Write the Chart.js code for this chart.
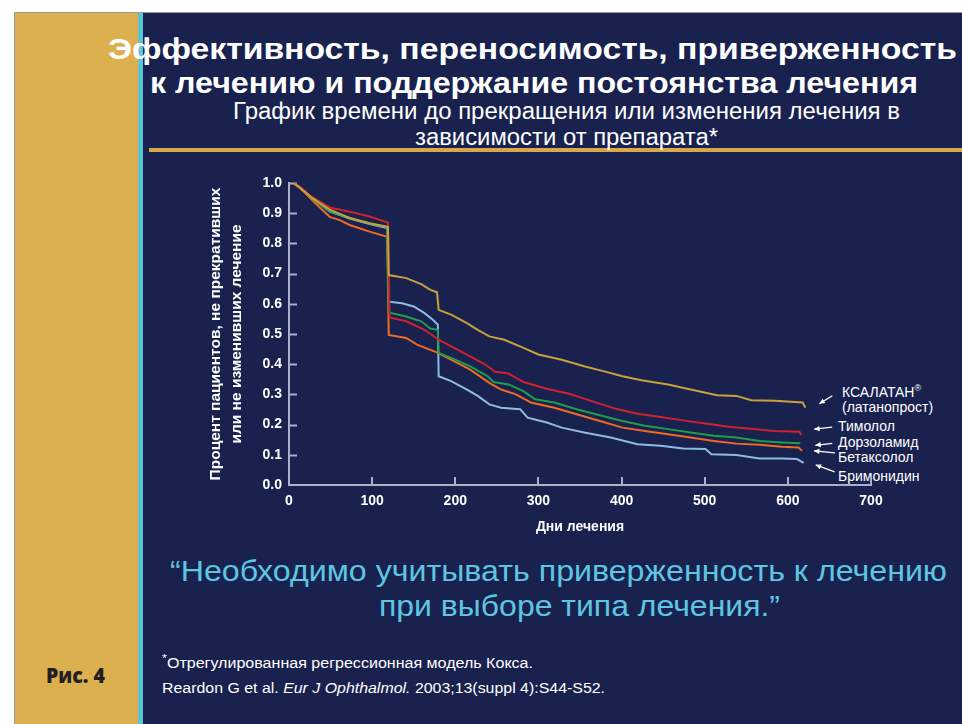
<!DOCTYPE html>
<html>
<head>
<meta charset="utf-8">
<script src="https://cdn.jsdelivr.net/npm/chart.js@4.4.1/dist/chart.umd.min.js"></script>
<style>
  html, body { margin: 0; padding: 0; }
  body { width: 962px; height: 724px; position: relative; overflow: hidden; background: #ffffff; font-family: "Liberation Sans", Arial, sans-serif; }
  #frame { position: absolute; left: 14px; top: 12px; right: 0; bottom: 0; border-left: 1px solid #9a9a9a; border-top: 1px solid #9a9a9a; background: #19214f; }
  #gold { position: absolute; left: 15px; top: 13px; width: 123px; bottom: 0; background: #dcb04e; }
  #cyan { position: absolute; left: 138px; top: 13px; width: 5px; bottom: 0; background: #5cc5d5; }
  #rule { position: absolute; left: 149px; top: 148px; right: 0; height: 4px; background: #d9a84a; }
  .t { position: absolute; white-space: nowrap; line-height: 1; transform-origin: 0 0; color: #ffffff; }
  #chart { position: absolute; left: 0; top: 0; width: 962px; height: 724px; }
</style>
</head>
<body>
<div id="frame"></div>
<div id="gold"></div>
<div id="cyan"></div>
<div id="rule"></div>
<div id="texts"></div>
<canvas id="chart" width="962" height="724"></canvas>
<script>
// days since start of treatment, and share of patients still on the same therapy
const xalatanDays = [5, 13, 29, 49, 73, 97, 119, 120, 141, 159, 170, 178, 180, 195, 214, 227, 241, 259, 282, 300, 328, 355, 378, 401, 424, 456, 483, 515, 538, 556, 584, 618, 621];
const xalatanValues = [1.0, 0.985, 0.948, 0.912, 0.884, 0.867, 0.855, 0.695, 0.685, 0.665, 0.646, 0.638, 0.58, 0.564, 0.536, 0.514, 0.492, 0.481, 0.454, 0.432, 0.415, 0.393, 0.377, 0.36, 0.347, 0.333, 0.316, 0.297, 0.295, 0.281, 0.279, 0.273, 0.256];

const timololDays = [5, 13, 25, 49, 73, 97, 119, 121, 141, 163, 180, 195, 218, 236, 248, 264, 282, 310, 337, 355, 392, 419, 447, 474, 501, 529, 561, 584, 614, 616];
const timololValues = [1.0, 0.988, 0.958, 0.919, 0.905, 0.889, 0.869, 0.555, 0.542, 0.514, 0.481, 0.459, 0.426, 0.399, 0.375, 0.369, 0.341, 0.319, 0.302, 0.286, 0.253, 0.236, 0.225, 0.214, 0.204, 0.193, 0.185, 0.179, 0.176, 0.165];

const dorzolamideDays = [5, 13, 29, 49, 73, 97, 118, 120, 141, 159, 170, 179, 180, 195, 218, 239, 246, 264, 282, 296, 319, 346, 369, 401, 428, 456, 483, 511, 538, 566, 593, 615];
const dorzolamideValues = [1.0, 0.986, 0.946, 0.906, 0.884, 0.866, 0.854, 0.571, 0.558, 0.542, 0.518, 0.514, 0.437, 0.421, 0.393, 0.36, 0.341, 0.333, 0.311, 0.284, 0.273, 0.251, 0.234, 0.212, 0.196, 0.185, 0.174, 0.163, 0.157, 0.146, 0.141, 0.138];

const betaxololDays = [5, 13, 29, 49, 61, 73, 97, 118, 120, 141, 154, 177, 195, 218, 241, 255, 273, 291, 319, 346, 374, 401, 428, 456, 483, 511, 538, 566, 593, 613, 617];
const betaxololValues = [1.0, 0.984, 0.94, 0.888, 0.877, 0.861, 0.839, 0.822, 0.497, 0.487, 0.465, 0.44, 0.415, 0.382, 0.338, 0.316, 0.3, 0.273, 0.256, 0.234, 0.212, 0.19, 0.179, 0.168, 0.157, 0.146, 0.137, 0.133, 0.127, 0.124, 0.113];

const brimonidineDays = [5, 13, 29, 49, 73, 97, 118, 120, 136, 150, 163, 173, 179, 180, 195, 214, 227, 241, 255, 278, 287, 310, 328, 355, 387, 419, 447, 474, 501, 508, 538, 566, 593, 611, 619];
const brimonidineValues = [1.0, 0.986, 0.947, 0.905, 0.882, 0.864, 0.851, 0.607, 0.602, 0.591, 0.569, 0.547, 0.531, 0.36, 0.344, 0.316, 0.295, 0.267, 0.256, 0.251, 0.223, 0.207, 0.19, 0.174, 0.157, 0.135, 0.13, 0.121, 0.119, 0.102, 0.099, 0.088, 0.088, 0.086, 0.073];

const seriesNames = ['КСАЛАТАН® (латанопрост)', 'Тимолол', 'Дорзоламид', 'Бетаксолол', 'Бримонидин'];
const xTicks = [0, 100, 200, 300, 400, 500, 600, 700];
const yTicks = [0.0, 0.1, 0.2, 0.3, 0.4, 0.5, 0.6, 0.7, 0.8, 0.9, 1.0];

// slide texts: [text, left, baseline, width, size, weight, colour]
const slideTexts = [
  ['Эффективность, переносимость, приверженность', 108, 59, 849, 30, 'bold', '#ffffff'],
  ['к лечению и поддержание постоянства лечения', 150, 93, 768, 30, 'bold', '#ffffff'],
  ['График времени до прекращения или изменения лечения в', 233, 119, 667, 23, 'normal', '#ffffff'],
  ['зависимости от препарата*', 415, 145, 303, 23, 'normal', '#ffffff'],
  ['\u201cНеобходимо учитывать приверженность к лечению', 170, 582, 777, 29, 'normal', '#5ec6e0'],
  ['при выборе типа лечения.\u201d', 379, 617, 401, 29, 'normal', '#5ec6e0'],
  ['(латанопрост)', 842, 412, 0, 14, 'normal', '#ffffff'],
  ['Тимолол', 838, 431, 0, 14, 'normal', '#ffffff'],
  ['Дорзоламид', 838, 447, 0, 14, 'normal', '#ffffff'],
  ['Бетаксолол', 838, 462, 0, 14, 'normal', '#ffffff'],
  ['Бримонидин', 838, 481, 0, 14, 'normal', '#ffffff']
];

const texts = document.getElementById('texts');
function addText(t) {
  const s = document.createElement('span');
  s.className = 't';
  s.textContent = t[0];
  s.style.left = t[1] + 'px';
  s.style.top = (t[2] - 0.8465 * t[4]) + 'px';
  s.style.fontSize = t[4] + 'px';
  s.style.fontWeight = t[5];
  s.style.color = t[6];
  texts.appendChild(s);
  if (t[3]) s.dataset.fit = t[3];
  return s;
}
slideTexts.forEach(addText);

const xal = addText(['', 842, 396, 0, 14, 'normal', '#ffffff']);
xal.innerHTML = 'КСАЛАТАН<sup style="font-size:9px;vertical-align:6px">®</sup>';

// footnote with an italic journal name
const foot1 = addText(['', 162, 665, 371, 14, 'normal', '#ffffff']);
foot1.innerHTML = '<sup style="font-size:11px">*</sup>Отрегулированная регрессионная модель Кокса.';
const foot2 = addText(['', 162, 693, 443, 14, 'normal', '#ffffff']);
foot2.innerHTML = 'Reardon G et al. <i>Eur J Ophthalmol.</i> 2003;13(suppl 4):S44-S52.';
const fig = addText(['Рис. 4', 46, 683, 59, 21, '800', '#231f20']);
fig.style.fontFamily = '"Open Sans", sans-serif';

function fitTexts() {
  document.querySelectorAll('[data-fit]').forEach(function (el) {
    const w = el.getBoundingClientRect().width;
    if (w > 0) el.style.transform = 'scaleX(' + (Number(el.dataset.fit) / w) + ')';
  });
}
fitTexts();

function points(days, values) {
  return days.map(function (d, i) { return { x: d, y: values[i] }; });
}

// axis ticks point into the plot, so draw them here
const innerTicks = {
  id: 'innerTicks',
  beforeDatasetsDraw(chart) {
    const ctx = chart.ctx;
    const xs = chart.scales.x, ys = chart.scales.y;
    ctx.save();
    ctx.strokeStyle = '#a9b0c8';
    ctx.lineWidth = 2;
    ctx.beginPath();
    yTicks.forEach(function (v) {
      if (v === 0) return;
      const py = Math.round(ys.getPixelForValue(v)) + 0.5;
      ctx.moveTo(xs.left, py);
      ctx.lineTo(xs.left + 8, py);
    });
    xTicks.forEach(function (v) {
      if (v === 0) return;
      const px = Math.round(xs.getPixelForValue(v));
      ctx.moveTo(px, ys.bottom);
      ctx.lineTo(px, ys.bottom - 8);
    });
    ctx.stroke();
    ctx.restore();
  },
  afterDatasetsDraw(chart) {
    // little white arrows from the labels to the end of each curve
    const ctx = chart.ctx;
    // [tip dx, tip dy, tail dx, tail dy] relative to the last point of each curve
    const offsets = [[14, -4, 13, -8], [13, -6, 18, -2], [15, 2, 17, -2], [12, 0, 21, 2], [12, 2, 19, 7]];
    ctx.save();
    ctx.strokeStyle = '#ffffff';
    ctx.fillStyle = '#ffffff';
    ctx.lineWidth = 1.3;
    chart.data.datasets.forEach(function (ds, i) {
      const pts = chart.getDatasetMeta(i).data;
      const last = pts[pts.length - 1];
      const o = offsets[i];
      const x1 = last.x + o[0], y1 = last.y + o[1];
      const x2 = x1 + o[2], y2 = y1 + o[3];
      const a = Math.atan2(y1 - y2, x1 - x2);
      ctx.beginPath();
      ctx.moveTo(x2, y2);
      ctx.lineTo(x1, y1);
      ctx.stroke();
      ctx.beginPath();
      ctx.moveTo(x1, y1);
      ctx.lineTo(x1 - 6 * Math.cos(a - 0.45), y1 - 6 * Math.sin(a - 0.45));
      ctx.lineTo(x1 - 6 * Math.cos(a + 0.45), y1 - 6 * Math.sin(a + 0.45));
      ctx.closePath();
      ctx.fill();
    });
    ctx.restore();
  }
};

const lineColors = ['#c9a13b', '#cf2130', '#1f9e4a', '#ef6b22', '#8fbbe3'];
const allDays = [xalatanDays, timololDays, dorzolamideDays, betaxololDays, brimonidineDays];
const allValues = [xalatanValues, timololValues, dorzolamideValues, betaxololValues, brimonidineValues];

const ctx = document.getElementById('chart').getContext('2d');
const myChart = new Chart(ctx, {
  type: 'line',
  data: {
    datasets: seriesNames.map(function (name, i) {
      return {
        label: name,
        data: points(allDays[i], allValues[i]),
        borderColor: lineColors[i],
        borderWidth: 2,
        pointRadius: 0,
        tension: 0,
        fill: false
      };
    })
  },
  options: {
    responsive: false,
    maintainAspectRatio: false,
    animation: false,
    devicePixelRatio: 1,
    layout: { padding: { left: 205, top: 183, right: 91, bottom: 188 } },
    plugins: { legend: { display: false }, tooltip: { enabled: false } },
    scales: {
      x: {
        type: 'linear',
        min: 0,
        max: 700,
        afterBuildTicks: function (scale) { scale.ticks = xTicks.map(function (v) { return { value: v }; }); },
        afterFit: function (scale) { scale.height = 51; },
        grid: { display: false, drawTicks: false },
        border: { display: true, color: '#a9b0c8', width: 2 },
        ticks: { color: '#ffffff', padding: 8, font: { family: 'Liberation Sans', size: 14, weight: 'bold' } },
        title: { display: true, text: 'Дни лечения', color: '#ffffff', padding: 0, font: { family: 'Liberation Sans', size: 14, weight: 'bold', lineHeight: 1.2 } }
      },
      y: {
        type: 'linear',
        min: 0,
        max: 1,
        afterBuildTicks: function (scale) { scale.ticks = yTicks.map(function (v) { return { value: v }; }); },
        afterFit: function (scale) { scale.width = 84; },
        grid: { display: false, drawTicks: false },
        border: { display: true, color: '#a9b0c8', width: 2 },
        ticks: {
          color: '#ffffff',
          padding: 7,
          autoSkip: false,
          font: { family: 'Liberation Sans', size: 14, weight: 'bold' },
          callback: function (v) { return Number(v).toFixed(1); }
        },
        title: {
          display: true,
          text: ['Процент пациентов, не прекративших', 'или не изменивших лечение'],
          color: '#ffffff',
          padding: 0,
          font: { family: 'Liberation Sans', size: 15.5, weight: 'bold', lineHeight: 1.35 }
        }
      }
    }
  },
  plugins: [innerTicks]
});
</script>
</body>
</html>
